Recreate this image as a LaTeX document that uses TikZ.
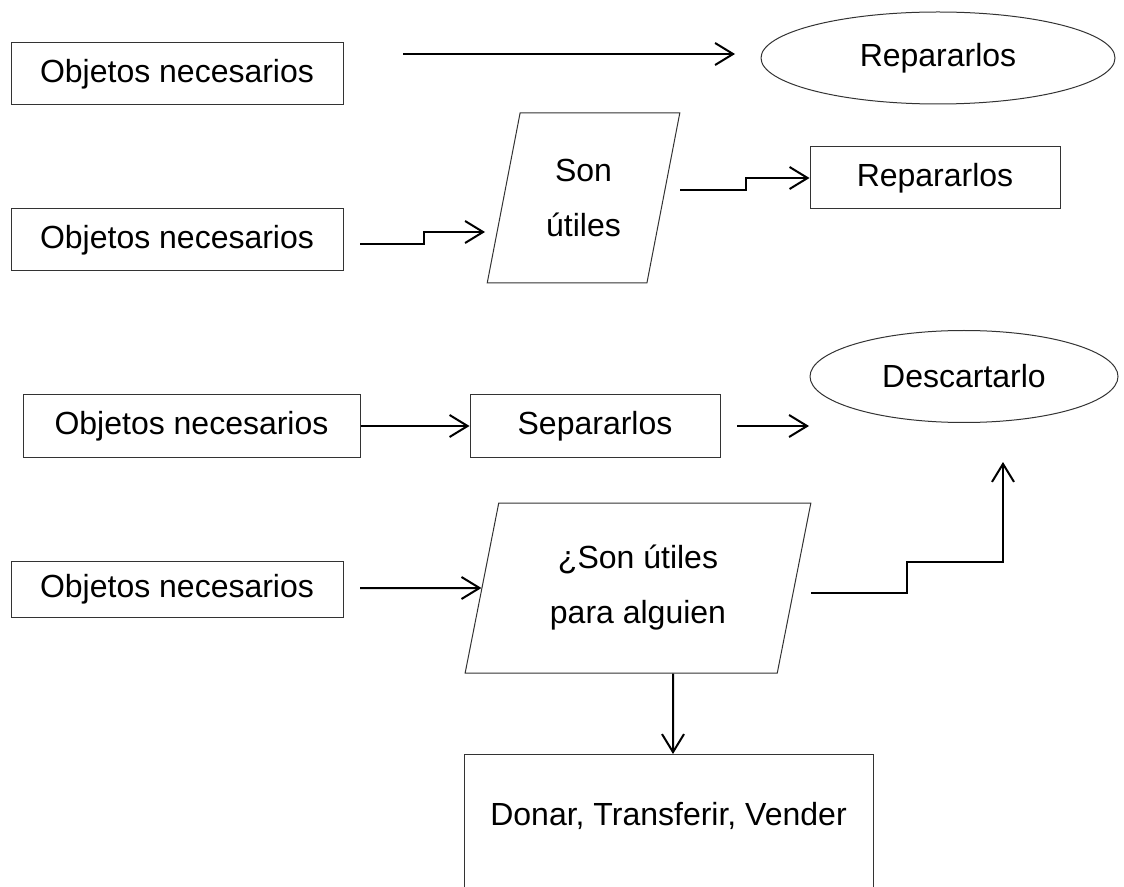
\documentclass[tikz,border=0pt]{standalone}
\usepackage{fontspec}
\setmainfont{Liberation Sans}
\usepackage{tikz}
\usetikzlibrary {arrows.meta,
                 positioning,
                 shapes.geometric}
\tikzset{
        base/.style={draw=black!80, line width=0.5pt, align=center, inner sep=0pt,
                     font=\fontsize{16pt}{27.5pt}\selectfont},
        proc/.style={base, rectangle, minimum width=166pt, minimum height=31pt},
        io/.style={base, trapezium, trapezium left angle=76, trapezium right
                   angle=104, trapezium stretches=true, minimum height=85pt
                   },
        term/.style={base, ellipse, minimum height=46pt},
        myarrow/.style={-{Straight Barb[length=9pt,width=11pt]}, line width=1pt},
 }
\begin{document}
\begin{tikzpicture}[x=0.5pt, y=-0.5pt]
    \clip (0,0) rectangle (1124,887);

    \node[proc] (obj1) at (177,74) {Objetos necesarios};
    \node[term, minimum width=177pt] (rep1) at (938,58) {Repararlos};
    \node[io, minimum width=96.5pt] (util) at (583.5,198) {Son\\útiles};
    \node[proc, minimum width=125pt] (rep2) at (935,178) {Repararlos};
    \node[proc] (obj2) at (177,240) {Objetos necesarios};
    \node[proc, minimum width=168.5pt] (obj3) at (191.5,426) {Objetos necesarios};
    \node[proc, minimum width=125pt, right=54.5pt of obj3] (sep) {Separarlos};
    \node[term, minimum width=154pt] (desc) at (964,376.5) {Descartarlo};
    \node[proc, minimum height=28pt] (obj4) at (177,589) {Objetos necesarios};
    \node[io, minimum width=173pt] (alguien) at (638,588) {¿Son útiles\\para alguien};
    \node[proc, minimum width=204.5pt, anchor=north, text height=35.25pt,
          text depth=40pt] (donar) at (668.5,754) {Donar, Transferir, Vender};

    % loose ends of the connectors
    \coordinate (a1s) at (403,54);
    \coordinate (a1e) at (735,54);
    \coordinate (a2s) at (680,190);
    \coordinate (a3s) at (360,244);
    \coordinate (a3e) at (485,232);
    \coordinate (a4s) at (737,426);
    \coordinate (a4e) at (809,426);
    \coordinate (a5s) at (360,588);
    \coordinate (a6s) at (811,593);
    \coordinate (a6e) at (1003,462);

    \draw[myarrow] (a1s) -- (a1e);
    \draw[myarrow] (a3s) -- (424,244) |- (a3e);
    \draw[myarrow] (a2s) -- (746,190) |- (rep2.west);
    \draw[myarrow] (obj3.east) -- (sep.west);
    \draw[myarrow] (a4s) -- (a4e);
    \draw[myarrow] (a5s) -- (alguien.west);
    \draw[myarrow] (a6s) -- (907,593) |- (1003,562) -- (a6e);
    \draw[myarrow] ([xshift=17.5pt]alguien.south) -- ([xshift=2.25pt]donar.north);
\end{tikzpicture}
\end{document}
